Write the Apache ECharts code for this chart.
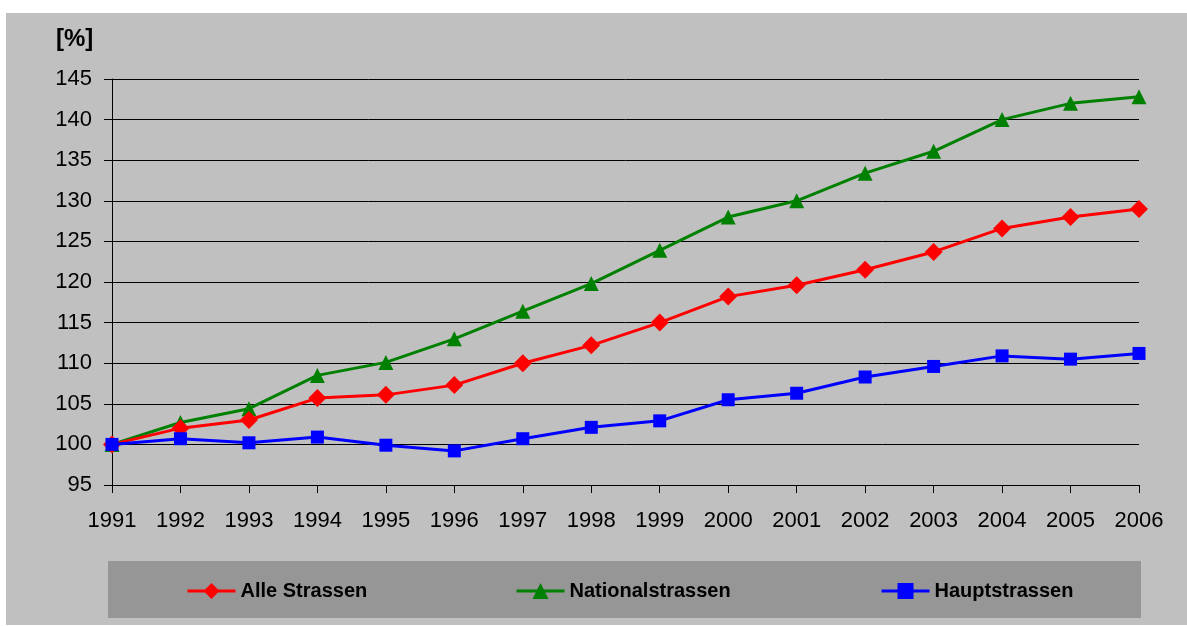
<!DOCTYPE html>
<html><head><meta charset="utf-8">
<script src="https://cdn.jsdelivr.net/npm/echarts@6/dist/echarts.min.js"></script>
<style>html,body{margin:0;padding:0;background:#fff}#c{width:1187px;height:626px}</style>
</head><body><div id="c"></div>
<script>
const years = ['1991','1992','1993','1994','1995','1996','1997','1998','1999','2000','2001','2002','2003','2004','2005','2006'];
const alleStrassen = [100,102.0,103.0,105.7,106.1,107.3,110.0,112.2,115.0,118.2,119.6,121.5,123.7,126.6,128.0,129.0];
const nationalstrassen = [100,102.7,104.4,108.5,110.1,113.0,116.4,119.8,123.9,128.0,130.0,133.4,136.1,140.0,142.0,142.8];
const hauptstrassen = [100,100.7,100.2,100.9,99.9,99.2,100.7,102.1,102.9,105.5,106.3,108.3,109.6,110.9,110.5,111.2];
const yTicks = {min:95, max:145, interval:5};
const unitLabel = '[%]';

const chart = echarts.init(document.getElementById('c'), null, {renderer:'canvas'});
const font = '"Liberation Sans", Arial, sans-serif';
const mkLegend = (name, left) => ({
  data:[name], left:left, top:576, itemWidth:48, itemHeight:20, itemGap:5,
  lineStyle:{width:3},
  textStyle:{fontFamily:font, fontSize:20, fontWeight:'bold', color:'#000'},
  selectedMode:false
});
chart.setOption({
  backgroundColor:'#ffffff',
  animation:false,
  graphic:[
    {type:'rect', z:-10, shape:{x:6,y:13,width:1181,height:612}, style:{fill:'#c0c0c0'}},
    {type:'rect', z:-9, shape:{x:108,y:561,width:1033,height:57}, style:{fill:'#969696'}},
    {type:'text', left:56, top:27, style:{text:unitLabel, font:'bold 24px "Liberation Sans", Arial, sans-serif', fill:'#000'}}
  ],
  legend:[mkLegend('Alle Strassen',181), mkLegend('Nationalstrassen',510), mkLegend('Hauptstrassen',875)],
  grid:{left:112, right:48, top:79, bottom:141, containLabel:false},
  xAxis:{type:'category', data:years, boundaryGap:false,
    axisLine:{lineStyle:{color:'#000', width:1}},
    axisTick:{show:true, length:8, lineStyle:{color:'#000'}, alignWithLabel:true},
    axisLabel:{color:'#000', fontFamily:font, fontSize:22, margin:25},
    splitLine:{show:false}},
  yAxis:{type:'value', min:yTicks.min, max:yTicks.max, interval:yTicks.interval,
    axisLine:{show:true, lineStyle:{color:'#000', width:1}},
    axisTick:{show:true, length:8, lineStyle:{color:'#000'}},
    axisLabel:{color:'#000', fontFamily:font, fontSize:22, margin:20},
    splitLine:{show:true, lineStyle:{color:'#000', width:1}}},
  series:[
    {name:'Alle Strassen', type:'line', data:alleStrassen, color:'#ff0000', symbol:'diamond', symbolSize:18,
     lineStyle:{width:3, color:'#ff0000'}, itemStyle:{color:'#ff0000'}, z:3},
    {name:'Nationalstrassen', type:'line', data:nationalstrassen, color:'#008000', symbol:'triangle', symbolSize:15,
     lineStyle:{width:3, color:'#008000'}, itemStyle:{color:'#008000'}, z:2},
    {name:'Hauptstrassen', type:'line', data:hauptstrassen, color:'#0000ff', symbol:'rect', symbolSize:13,
     lineStyle:{width:3, color:'#0000ff'}, itemStyle:{color:'#0000ff'}, z:4}
  ]
});
</script></body></html>
